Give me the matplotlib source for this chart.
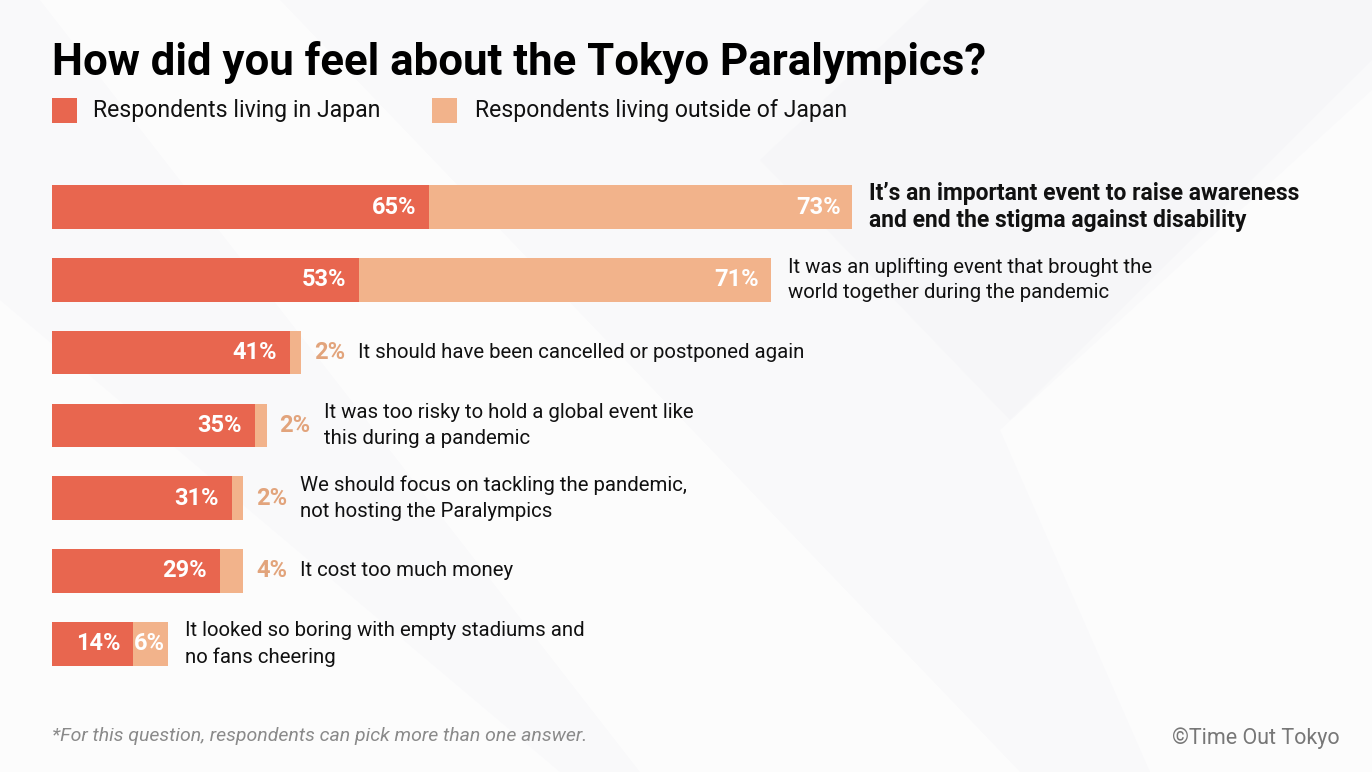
import matplotlib
matplotlib.use("Agg")
import matplotlib.pyplot as plt
from matplotlib.patches import Rectangle, Polygon

# ---- data ----
categories = [
    "It\u2019s an important event to raise awareness\nand end the stigma against disability",
    "It was an uplifting event that brought the\nworld together during the pandemic",
    "It should have been cancelled or postponed again",
    "It was too risky to hold a global event like\nthis during a pandemic",
    "We should focus on tackling the pandemic,\nnot hosting the Paralympics",
    "It cost too much money",
    "It looked so boring with empty stadiums and\nno fans cheering",
]
japan = [65, 53, 41, 35, 31, 29, 14]
outside = [73, 71, 2, 2, 2, 4, 6]
series_names = ["Respondents living in Japan", "Respondents living outside of Japan"]
title = "How did you feel about the Tokyo Paralympics?"
footnote = "*For this question, respondents can pick more than one answer."
credit = "\u00a9Time Out Tokyo"

RED = "#e8664f"
PEACH = "#f2b38b"
PEACH_TXT = "#e2a47c"

W, H = 1372, 772
fig = plt.figure(figsize=(W / 100, H / 100), dpi=100)
fig.patch.set_facecolor("#f9f9fa")

# faint background shapes (figure pixel coords -> fraction)
def P(pts):
    return [(x / W, 1 - y / H) for x, y in pts]

bg = [
    (P([(0, 0), (0, 772), (560, 772), (0, 300)]), "#ffffff", 0.5),
    (P([(40, 0), (280, 0), (1020, 772), (640, 772)]), "#ffffff", 0.6),
    (P([(930, 0), (1372, 0), (1372, 60), (1010, 420), (760, 160)]), "#f4f5f7", 0.6),
    (P([(1372, 90), (1372, 772), (1150, 772), (1000, 430)]), "#ffffff", 0.5),
]
for pts, c, a in bg:
    fig.patches.append(Polygon(pts, closed=True, transform=fig.transFigure,
                               facecolor=c, edgecolor="none", alpha=a, zorder=-5))

FONT = "Roboto"

# axes: left at 52px, spanning to right edge, scale 5.8 px per %
left_px, right_px = 52, 1372
top_px, bot_px = 160, 690
ax = fig.add_axes([left_px / W, 1 - bot_px / H, (right_px - left_px) / W, (bot_px - top_px) / H])
ax.set_facecolor("none")
scale = 5.8
ax.set_xlim(0, (right_px - left_px) / scale)
row_px = 72.8
c0 = 207
ax.set_ylim((bot_px - c0) / row_px, (top_px - c0) / row_px)
ax.axis("off")

ys = list(range(len(categories)))
ax.barh(ys, japan, height=0.6, color=RED, edgecolor="none")
ax.barh(ys, outside, left=japan, height=0.6, color=PEACH, edgecolor="none")

pt = 100 / 72.0  # px per point
VFS = 17
for i, (j, o, cat) in enumerate(zip(japan, outside, categories)):
    ax.annotate(f"{j}%", (j, i), xytext=(-13 / pt, 0), textcoords="offset points",
                ha="right", va="center", color="white", fontsize=VFS,
                fontweight="bold", family=FONT)
    end = j + o
    if o >= 6:
        pad = -12 if o > 10 else -3
        ax.annotate(f"{o}%", (end, i), xytext=(pad / pt, 0), textcoords="offset points",
                    ha="right", va="center", color="white", fontsize=VFS,
                    fontweight="bold", family=FONT)
        off = 17
    else:
        ax.annotate(f"{o}%", (end, i), xytext=(13 / pt, 0), textcoords="offset points",
                    ha="left", va="center", color=PEACH_TXT, fontsize=VFS,
                    fontweight="bold", family=FONT)
        off = 57
    bold = i == 0
    ax.annotate(cat, (end, i), xytext=(off / pt, 0), textcoords="offset points",
                ha="left", va="center", color="#111111",
                fontsize=16.5 if bold else 14.7, fontweight="bold" if bold else "normal",
                family=FONT, linespacing=1.25 if bold else 1.45)

# title
fig.text(52 / W, 1 - 62 / H, title, ha="left", va="center", fontsize=31.5,
         fontweight="bold", family=FONT, color="#000000")

# legend
fig.patches.append(Rectangle((52 / W, 1 - 123 / H), 25 / W, 25 / H, transform=fig.transFigure,
                             facecolor=RED, edgecolor="none"))
fig.text(93 / W, 1 - 110 / H, series_names[0], ha="left", va="center", fontsize=16.6,
         family=FONT, color="#111111")
fig.patches.append(Rectangle((432 / W, 1 - 123 / H), 25 / W, 25 / H, transform=fig.transFigure,
                             facecolor=PEACH, edgecolor="none"))
fig.text(475 / W, 1 - 110 / H, series_names[1], ha="left", va="center", fontsize=16.6,
         family=FONT, color="#111111")

# footnote & credit
fig.text(52 / W, 1 - 736 / H, footnote, ha="left", va="center", fontsize=14,
         style="italic", family=FONT, color="#8a8a8a")
fig.text(1340 / W, 1 - 738 / H, credit, ha="right", va="center", fontsize=15.5,
         family=FONT, color="#777777")

fig.savefig("out.png", dpi=100, facecolor=fig.get_facecolor())
